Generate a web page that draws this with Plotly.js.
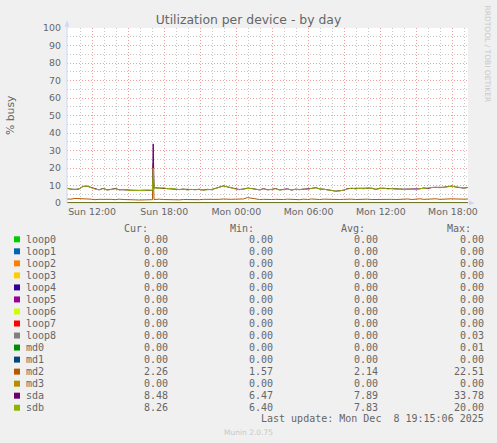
<!DOCTYPE html>
<html><head><meta charset="utf-8">
<script src="https://cdn.plot.ly/plotly-3.0.1.min.js"></script>
<style>html,body{margin:0;padding:0;background:#F0F0F0;}#chart{width:497px;height:443px;}</style>
</head><body><div id="chart"></div>
<script>
// ---- data ----
const seriesNames = ['loop0','loop1','loop2','loop3','loop4','loop5','loop6','loop7','loop8','md0','md1','md2','md3','sda','sdb'];
const seriesColors = ['#00CC00','#0066B3','#FF8000','#FFCC00','#330099','#990099','#CCFF00','#FF0000','#808080','#008F00','#00487D','#B35A00','#B38F00','#6B006B','#8FB300'];
const curVals = [0,0,0,0,0,0,0,0,0,0,0,2.26,0,8.48,8.26];
const minVals = [0,0,0,0,0,0,0,0,0,0,0,1.57,0,6.47,6.40];
const avgVals = [0,0,0,0,0,0,0,0,0,0,0,2.14,0,7.89,7.83];
const maxVals = [0,0,0,0,0,0,0,0,0.03,0.01,0,22.51,0,33.78,20.00];
const headerLabels = ['Cur:','Min:','Avg:','Max:'];
const titleText = 'Utilization per device - by day';
const yTitleText = '% busy';
const lastUpdateText = 'Last update: Mon Dec\u00A0\u00A08 19:15:06 2025';
const watermarkText = 'RRDTOOL / TOBI OETIKER';
const versionText = 'Munin 2.0.75';

const startTime = '2025-12-07 09:55:00';
const endTime = '2025-12-08 19:15:06';
const sampleStepMinutes = 20;

const sdbValues = [8.3,8.0,7.6,8.1, 9.4,9.7,8.8, 7.9,7.6,8.2,7.4,7.9,8.1,7.5,7.8,7.3,
 7.2,7.0,7.3,7.1,7.4,7.2, 8.6,8.3,8.7,8.2,8.4,7.9, 7.6,8.0,7.4,7.8,7.5,7.9,7.3,7.6,7.7,
 8.3,9.2,9.7,9.3,8.5, 8.0,7.6,8.1,8.3, 8.2,7.9,7.6,8.0,7.5,7.8,8.1,7.4,7.7,7.9,7.5,7.8,
 7.6,8.0,7.7,8.4,8.6,8.1,7.8,7.5,7.2, 6.7,6.9,7.4, 8.2,8.5,8.0,8.4,8.1,8.6,8.3,7.9,8.2,8.5,8.0,8.3,
 7.9,8.1,7.7,8.0,7.8,7.6,8.2,8.4,8.3, 8.8,9.0,8.7,9.1,9.3, 9.6,9.2,8.9,8.6,8.8];
const sdaValues = [8.5,7.9,7.8,8.0, 9.5,9.6,8.9, 8.0,7.5,8.4,7.5,7.8,8.3,7.6,7.7,7.5,
 7.3,7.1,7.2,7.3,7.3,7.1, 8.7,8.5,8.6,8.4,8.3,8.1, 7.7,7.9,7.6,7.7,7.7,7.8,7.4,7.8,7.6,
 8.4,9.1,9.8,9.2,8.6, 8.1,7.7,8.0,8.5, 8.3,8.0,7.5,8.2,7.6,7.7,8.3,7.5,7.6,8.1,7.4,7.9,
 7.7,7.9,7.9,8.3,8.8,8.0,7.9,7.4,7.3, 6.8,7.0,7.3, 8.3,8.4,8.2,8.3,8.3,8.5,8.5,7.8,8.4,8.4,8.2,8.2,
 8.0,8.0,7.9,7.9,8.0,7.7,8.1,8.6,8.2, 8.9,8.9,8.9,9.0,9.4, 9.7,9.1,9.0,8.5,8.9];
const md2Values = [2.3,2.2,2.6,2.4,2.1,2.3,2.2,1.9,2.1,2.2,2.0,
 2.1,1.9,2.2,2.0,1.8,1.9,1.8,1.7,1.9,1.8,1.9,
 2.1,2.2,2.0,1.9,2.1,2.0,1.8,2.0,1.9,1.8,2.0,
 1.9,2.1,2.0,1.9,2.2,2.1,2.3,2.0,2.1,2.2,2.4,
 2.3,3.1,2.6,2.2,2.0,2.1,1.9,2.0,2.1,1.9,2.0,
 2.2,2.0,2.1,1.9,2.2,2.0,2.3,2.1,2.0,2.2,2.1,
 1.9,1.8,2.0,2.1,2.3,2.2,2.0,2.1,2.3,2.2,2.0,
 2.1,2.2,2.0,2.4,2.1,2.0,2.2,2.1,2.3,2.0,2.2,
 2.4,2.1,2.3,2.2,2.4,2.1,2.3,2.2,2.4,2.3,2.1,2.2,2.3];
const spikeTimes = ['2025-12-07 17:01:00','2025-12-07 17:05:00','2025-12-07 17:09:00'];
const sdaSpike = [7.2, 33.78, 8.6];
const sdbSpike = [7.2, 20.00, 8.5];
const md2Spike = [1.9, 22.51, 2.0];
const zeroTimes = [startTime, endTime];
const zeroValues = [0, 0];

// ---- build ----
function fmt(ms){ return new Date(ms).toISOString().slice(0,19).replace('T',' '); }
const t0 = Date.parse(startTime.replace(' ','T')+'Z');
const baseTimes = sdbValues.map((_, i) => fmt(t0 + i*sampleStepMinutes*60000));
function merge(times, vals, sTimes, sVals){
  const pts = times.map((t,i)=>[t, vals[i]]).concat(sTimes.map((t,i)=>[t, sVals[i]]));
  pts.sort((a,b)=> a[0] < b[0] ? -1 : a[0] > b[0] ? 1 : 0);
  return {x: pts.map(p=>p[0]), y: pts.map(p=>p[1])};
}
const dataMap = {
  md2: merge(baseTimes, md2Values, spikeTimes, md2Spike),
  sda: merge(baseTimes, sdaValues, spikeTimes, sdaSpike),
  sdb: merge(baseTimes, sdbValues, spikeTimes, sdbSpike)
};
const traces = seriesNames.map((n,i) => {
  const d = dataMap[n] || {x: zeroTimes, y: zeroValues};
  return {type:'scatter', mode:'lines', name:n, x:d.x, y:d.y,
          line:{color:seriesColors[i], width:1}, hoverinfo:'skip'};
});

// pixel helpers for decoration placement
const L=67, T=28, W=401, H=175;
const px = p => (p-L)/W;
const py = p => (T+H-p)/H;
const textColor = '#666666';
const mono = 'DejaVu Sans Mono';
const annotations = [];
const shapes = [];
function ann(text, x, y, xanchor, size, color, family, angle){
  annotations.push({text, x:px(x), y:py(y), xref:'paper', yref:'paper', showarrow:false,
    xanchor, yanchor:'middle', borderpad:0, borderwidth:0, textangle: angle||0,
    font:{family: family||'DejaVu Sans', size, color: color||textColor}});
}
ann(yTitleText, 10.5, 115.5, 'center', 10.8, textColor, 'DejaVu Sans', -90);
ann(watermarkText, 487, 53.5, 'center', 7.5, '#C8C8C8', 'DejaVu Sans', 90);
const colRight = [167.5, 273, 377.5, 483.5];
const headRight = [148, 253.5, 365, 471];
headerLabels.forEach((h,i)=> ann(h, headRight[i], 228.3, 'right', 10, textColor, mono));
const rowY0 = 239.3, rowStep = 12.03;
seriesNames.forEach((n,i)=>{
  const y = rowY0 + i*rowStep;
  shapes.push({type:'rect', xref:'paper', yref:'paper', x0:px(14), x1:px(20), y0:py(y-3), y1:py(y+3),
    fillcolor:seriesColors[i], line:{width:0}});
  ann(n, 25.5, y, 'left', 10, textColor, mono);
  [curVals, minVals, avgVals, maxVals].forEach((arr,j)=> ann(arr[i].toFixed(2), colRight[j], y, 'right', 10, textColor, mono));
});
ann(lastUpdateText, 483.5, 419, 'right', 10, textColor, mono);
ann(versionText, 248.5, 432, 'center', 7.5, '#C8C8C8');

// axis arrows
const axisCol = '#CFD6F8';
shapes.push({type:'line', xref:'paper', yref:'paper', x0:px(67), x1:px(67), y0:py(203), y1:py(24), line:{color:axisCol, width:1}});
shapes.push({type:'line', xref:'paper', yref:'paper', x0:px(67), x1:px(471), y0:py(203), y1:py(203), line:{color:axisCol, width:1}, layer:'below'});
shapes.push({type:'path', xref:'paper', yref:'paper', path:`M ${px(64.5)} ${py(26.5)} L ${px(69.5)} ${py(26.5)} L ${px(67)} ${py(20.5)} Z`, fillcolor:axisCol, line:{width:0}});
shapes.push({type:'path', xref:'paper', yref:'paper', path:`M ${px(469)} ${py(200.5)} L ${px(469)} ${py(205.5)} L ${px(474.5)} ${py(203)} Z`, fillcolor:axisCol, line:{width:0}});

const majorGrid = 'rgba(222,79,79,0.55)';
const minorGrid = 'rgba(143,143,143,0.5)';
const dotted = '1px,2px';
const layout = {
  width:497, height:443,
  paper_bgcolor:'#F0F0F0', plot_bgcolor:'#FFFFFF',
  margin:{l:L, r:497-L-W, t:T, b:443-T-H, pad:0},
  showlegend:false,
  title:{text:titleText, x:0.5, xref:'container', xanchor:'center', y:1-19.5/443, yref:'container', yanchor:'middle',
         font:{family:'DejaVu Sans', size:12.4, color:textColor}},
  xaxis:{type:'date', range:[startTime, endTime], tick0:'2025-12-07 00:00:00', dtick:3*3600000,
         ticklabelstep:2, tickformat:'%a %H:%M', ticks:'', ticklabelstandoff:2, showgrid:true, gridcolor:majorGrid, griddash:dotted, gridwidth:1,
         minor:{dtick:3600000, showgrid:true, gridcolor:minorGrid, griddash:dotted, gridwidth:1},
         zeroline:false, showline:false, tickfont:{family:'DejaVu Sans', size:9.4, color:textColor}, fixedrange:true},
  yaxis:{range:[0,100], dtick:10, tick0:0, ticks:'', showgrid:true, gridcolor:majorGrid, griddash:dotted, gridwidth:1,
         minor:{dtick:5, showgrid:true, gridcolor:minorGrid, griddash:dotted, gridwidth:1},
         zeroline:false, showline:false, ticklabelstandoff:5,
         tickfont:{family:'DejaVu Sans', size:9.4, color:textColor}, fixedrange:true},
  annotations, shapes
};
Plotly.newPlot('chart', traces, layout, {displayModeBar:false, staticPlot:true});
</script></body></html>
